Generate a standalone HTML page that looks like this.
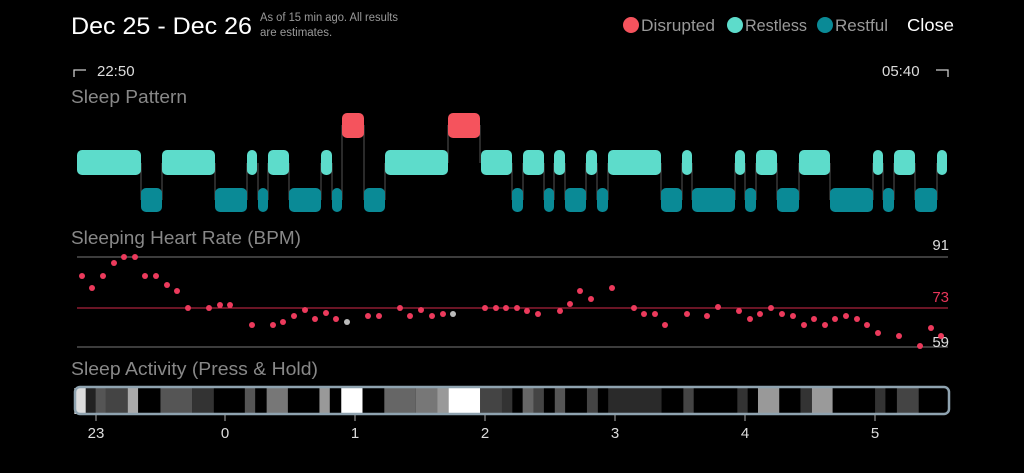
<!DOCTYPE html>
<html><head><meta charset="utf-8"><style>
html,body{margin:0;padding:0;background:#000;width:1024px;height:473px;overflow:hidden}
svg{display:block}
text{font-family:"Liberation Sans",sans-serif}
</style></head><body>
<svg width="1024" height="473" viewBox="0 0 1024 473" xmlns="http://www.w3.org/2000/svg">
<rect width="1024" height="473" fill="#000"/>
<text x="71" y="34" font-size="24" fill="#fff" textLength="181" lengthAdjust="spacingAndGlyphs">Dec 25 - Dec 26</text>
<text x="260" y="21" font-size="11.5" fill="#999" textLength="138" lengthAdjust="spacingAndGlyphs">As of 15 min ago. All results</text>
<text x="260" y="36" font-size="11.5" fill="#999">are estimates.</text>
<circle cx="631" cy="25" r="8" fill="#f5535d"/><text x="641" y="31" font-size="16.5" fill="#999" textLength="74" lengthAdjust="spacingAndGlyphs">Disrupted</text>
<circle cx="735" cy="25" r="8" fill="#5ddccb"/><text x="745" y="31" font-size="16.5" fill="#999" textLength="62" lengthAdjust="spacingAndGlyphs">Restless</text>
<circle cx="825" cy="25" r="8" fill="#0a8a96"/><text x="835" y="31" font-size="16.5" fill="#999" textLength="53" lengthAdjust="spacingAndGlyphs">Restful</text>
<text x="907" y="31" font-size="17.5" fill="#fff" textLength="47" lengthAdjust="spacingAndGlyphs">Close</text>
<path d="M74 77V70H86" stroke="#ccc" fill="none" stroke-width="1.3"/>
<text x="97" y="76" font-size="15" fill="#ddd">22:50</text>
<text x="882" y="76" font-size="15" fill="#ddd">05:40</text>
<path d="M936 70H948V77" stroke="#ccc" fill="none" stroke-width="1.3"/>
<text x="71" y="103" font-size="18" fill="#888" textLength="116" lengthAdjust="spacingAndGlyphs">Sleep Pattern</text>
<g stroke="#555" stroke-width="1">
<path d="M141 163V200M162 163V200M215 163V200M247 163V200M258 163V200M268 163V200M289 163V200M321 163V200M332 163V200M342 125V200M364 125V200M385 163V200M448 125V163M480 125V163M512 163V200M523 163V200M544 163V200M554 163V200M565 163V200M586 163V200M597 163V200M608 163V200M661 163V200M682 163V200M692 163V200M735 163V200M745 163V200M756 163V200M777 163V200M799 163V200M830 163V200M873 163V200M883 163V200M894 163V200M915 163V200M937 163V200"/>
</g>
<g fill="#5ddccb">
<rect x="77" y="150" width="64" height="25" rx="5"/><rect x="162" y="150" width="53" height="25" rx="5"/>
<rect x="247" y="150" width="10" height="25" rx="5"/><rect x="268" y="150" width="21" height="25" rx="5"/>
<rect x="321" y="150" width="11" height="25" rx="5"/><rect x="385" y="150" width="63" height="25" rx="5"/>
<rect x="481" y="150" width="31" height="25" rx="5"/><rect x="523" y="150" width="21" height="25" rx="5"/>
<rect x="554" y="150" width="11" height="25" rx="5"/><rect x="586" y="150" width="11" height="25" rx="5"/>
<rect x="608" y="150" width="53" height="25" rx="5"/><rect x="682" y="150" width="10" height="25" rx="5"/>
<rect x="735" y="150" width="10" height="25" rx="5"/><rect x="756" y="150" width="21" height="25" rx="5"/>
<rect x="799" y="150" width="31" height="25" rx="5"/><rect x="873" y="150" width="10" height="25" rx="5"/>
<rect x="894" y="150" width="21" height="25" rx="5"/><rect x="937" y="150" width="10" height="25" rx="5"/>
</g>
<g fill="#0a8a96">
<rect x="141" y="188" width="21" height="24" rx="5"/><rect x="215" y="188" width="32" height="24" rx="5"/>
<rect x="258" y="188" width="10" height="24" rx="5"/><rect x="289" y="188" width="32" height="24" rx="5"/>
<rect x="332" y="188" width="10" height="24" rx="5"/><rect x="364" y="188" width="21" height="24" rx="5"/>
<rect x="512" y="188" width="11" height="24" rx="5"/><rect x="544" y="188" width="10" height="24" rx="5"/>
<rect x="565" y="188" width="21" height="24" rx="5"/><rect x="597" y="188" width="11" height="24" rx="5"/>
<rect x="661" y="188" width="21" height="24" rx="5"/><rect x="692" y="188" width="43" height="24" rx="5"/>
<rect x="745" y="188" width="11" height="24" rx="5"/><rect x="777" y="188" width="22" height="24" rx="5"/>
<rect x="830" y="188" width="43" height="24" rx="5"/><rect x="883" y="188" width="11" height="24" rx="5"/>
<rect x="915" y="188" width="22" height="24" rx="5"/>
</g>
<g fill="#f5535d">
<rect x="342" y="113" width="22" height="25" rx="5"/><rect x="448" y="113" width="32" height="25" rx="5"/>
</g>
<text x="71" y="244" font-size="18" fill="#888" textLength="230" lengthAdjust="spacingAndGlyphs">Sleeping Heart Rate (BPM)</text>
<line x1="77" y1="257" x2="948" y2="257" stroke="#777" stroke-width="1"/>
<line x1="77" y1="308" x2="948" y2="308" stroke="#d52a4a" stroke-width="1"/>
<line x1="77" y1="347" x2="948" y2="347" stroke="#777" stroke-width="1"/>
<text x="949" y="250" font-size="15" fill="#ddd" text-anchor="end">91</text>
<text x="949" y="302" font-size="15" fill="#e8365a" text-anchor="end">73</text>
<text x="949" y="347" font-size="15" fill="#ddd" text-anchor="end">59</text>
<g fill="#ec3a5c">
<circle cx="82" cy="276" r="3"/><circle cx="92" cy="288" r="3"/><circle cx="103" cy="276" r="3"/><circle cx="114" cy="263" r="3"/><circle cx="124" cy="257" r="3"/><circle cx="135" cy="257" r="3"/><circle cx="145" cy="276" r="3"/><circle cx="156" cy="276" r="3"/><circle cx="167" cy="285" r="3"/><circle cx="177" cy="291" r="3"/><circle cx="188" cy="308" r="3"/><circle cx="209" cy="308" r="3"/><circle cx="220" cy="305" r="3"/><circle cx="230" cy="305" r="3"/><circle cx="252" cy="325" r="3"/><circle cx="273" cy="325" r="3"/><circle cx="283" cy="322" r="3"/><circle cx="294" cy="316" r="3"/><circle cx="305" cy="310" r="3"/><circle cx="315" cy="319" r="3"/><circle cx="326" cy="313" r="3"/><circle cx="336" cy="319" r="3"/><circle cx="368" cy="316" r="3"/><circle cx="379" cy="316" r="3"/><circle cx="400" cy="308" r="3"/><circle cx="410" cy="316" r="3"/><circle cx="421" cy="310" r="3"/><circle cx="432" cy="316" r="3"/><circle cx="443" cy="314" r="3"/><circle cx="485" cy="308" r="3"/><circle cx="496" cy="308" r="3"/><circle cx="506" cy="308" r="3"/><circle cx="517" cy="308" r="3"/><circle cx="527" cy="311" r="3"/><circle cx="538" cy="314" r="3"/><circle cx="560" cy="311" r="3"/><circle cx="570" cy="304" r="3"/><circle cx="580" cy="291" r="3"/><circle cx="591" cy="299" r="3"/><circle cx="612" cy="288" r="3"/><circle cx="634" cy="308" r="3"/><circle cx="644" cy="314" r="3"/><circle cx="655" cy="314" r="3"/><circle cx="665" cy="325" r="3"/><circle cx="687" cy="314" r="3"/><circle cx="707" cy="316" r="3"/><circle cx="718" cy="307" r="3"/><circle cx="739" cy="311" r="3"/><circle cx="750" cy="319" r="3"/><circle cx="760" cy="314" r="3"/><circle cx="771" cy="308" r="3"/><circle cx="782" cy="314" r="3"/><circle cx="793" cy="316" r="3"/><circle cx="804" cy="325" r="3"/><circle cx="814" cy="319" r="3"/><circle cx="825" cy="325" r="3"/><circle cx="835" cy="319" r="3"/><circle cx="846" cy="316" r="3"/><circle cx="857" cy="319" r="3"/><circle cx="867" cy="325" r="3"/><circle cx="878" cy="333" r="3"/><circle cx="899" cy="336" r="3"/><circle cx="920" cy="346" r="3"/><circle cx="931" cy="328" r="3"/><circle cx="941" cy="336" r="3"/>
</g>
<circle cx="347" cy="322" r="3" fill="#bbb"/><circle cx="453" cy="314" r="3" fill="#bbb"/>
<text x="71" y="375" font-size="18" fill="#888" textLength="247" lengthAdjust="spacingAndGlyphs">Sleep Activity (Press &amp; Hold)</text>
<g transform="translate(60,0) scale(0.574,1)">
<rect x="25" y="388" width="1523" height="26" fill="#000"/>
<g>
<rect x="25" y="388" width="20" height="26" fill="#ddd"/>
<rect x="45" y="388" width="17" height="26" fill="#222"/>
<rect x="62" y="388" width="18" height="26" fill="#555"/>
<rect x="80" y="388" width="38" height="26" fill="#444"/>
<rect x="118" y="388" width="18" height="26" fill="#aaa"/>
<rect x="175" y="388" width="55" height="26" fill="#555"/>
<rect x="230" y="388" width="38" height="26" fill="#333"/>
<rect x="322" y="388" width="18" height="26" fill="#555"/>
<rect x="360" y="388" width="37" height="26" fill="#777"/>
<rect x="452" y="388" width="18" height="26" fill="#999"/>
<rect x="490" y="388" width="37" height="26" fill="#fff"/>
<rect x="565" y="388" width="55" height="26" fill="#666"/>
<rect x="620" y="388" width="37" height="26" fill="#777"/>
<rect x="657" y="388" width="20" height="26" fill="#999"/>
<rect x="677" y="388" width="55" height="26" fill="#fff"/>
<rect x="732" y="388" width="38" height="26" fill="#444"/>
<rect x="770" y="388" width="18" height="26" fill="#333"/>
<rect x="806" y="388" width="19" height="26" fill="#666"/>
<rect x="825" y="388" width="18" height="26" fill="#444"/>
<rect x="862" y="388" width="18" height="26" fill="#555"/>
<rect x="918" y="388" width="19" height="26" fill="#444"/>
<rect x="955" y="388" width="93" height="26" fill="#2a2a2a"/>
<rect x="1086" y="388" width="18" height="26" fill="#444"/>
<rect x="1180" y="388" width="18" height="26" fill="#333"/>
<rect x="1216" y="388" width="37" height="26" fill="#999"/>
<rect x="1290" y="388" width="20" height="26" fill="#333"/>
<rect x="1310" y="388" width="36" height="26" fill="#9a9a9a"/>
<rect x="1420" y="388" width="18" height="26" fill="#333"/>
<rect x="1458" y="388" width="38" height="26" fill="#444"/>
</g>
</g>
<rect x="75" y="387" width="874" height="27" rx="5" fill="none" stroke="#8fa3b0" stroke-width="2.5"/>
<g stroke="#aaa" stroke-width="1">
<path d="M96 415V421M225 415V421M355 415V421M485 415V421M615 415V421M745 415V421M875 415V421"/>
</g>
<g font-size="15" fill="#ddd" text-anchor="middle">
<text x="96" y="438">23</text><text x="225" y="438">0</text><text x="355" y="438">1</text><text x="485" y="438">2</text><text x="615" y="438">3</text><text x="745" y="438">4</text><text x="875" y="438">5</text>
</g>
</svg>
</body></html>
